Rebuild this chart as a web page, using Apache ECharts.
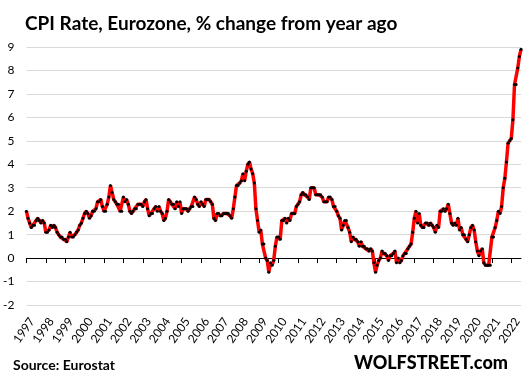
<!DOCTYPE html>
<html>
<head>
<meta charset="utf-8">
<script src="https://cdn.jsdelivr.net/npm/echarts@6/dist/echarts.min.js"></script>
<style>
html,body{margin:0;padding:0;background:#fff;}
#chart{width:529px;height:378px;}
</style>
</head>
<body>
<div id="chart"></div>
<script>
// Year labels (one per January tick)
const years = ['1997','1998','1999','2000','2001','2002','2003','2004','2005','2006','2007','2008','2009','2010','2011','2012','2013','2014','2015','2016','2017','2018','2019','2020','2021','2022'];
const monthsInLastYear = 7;

// CPI annual rate, % (monthly values)
const cpi1997_2001 = [
  2.0,1.7,1.5,1.3,1.4,1.4,1.6,1.7,1.6,1.5,1.6,1.5,
  1.1,1.1,1.2,1.4,1.3,1.4,1.3,1.1,1.0,0.9,0.9,0.8,
  0.8,0.7,0.9,1.1,0.9,0.9,1.0,1.1,1.2,1.4,1.5,1.7,
  1.9,2.0,1.9,1.7,1.8,2.0,2.0,2.1,2.4,2.4,2.5,2.2,
  2.0,2.0,2.3,2.6,3.1,2.8,2.5,2.4,2.3,2.3,2.0,2.0
];
const cpi2002_2006 = [
  2.6,2.4,2.5,2.3,2.0,1.9,2.0,2.1,2.1,2.3,2.3,2.3,
  2.2,2.4,2.5,2.1,1.8,1.9,1.9,2.1,2.2,2.0,2.2,2.0,
  1.9,1.6,1.7,2.0,2.5,2.4,2.3,2.3,2.1,2.4,2.2,2.4,
  1.9,2.1,2.1,2.1,2.0,2.1,2.2,2.2,2.6,2.5,2.3,2.2,
  2.4,2.3,2.2,2.5,2.5,2.5,2.4,2.3,1.7,1.6,1.9,1.9
];
const cpi2007_2011 = [
  1.8,1.8,1.9,1.9,1.9,1.9,1.8,1.7,2.1,2.6,3.1,3.1,
  3.2,3.3,3.6,3.3,3.7,4.0,4.1,3.8,3.6,3.2,2.1,1.6,
  1.1,1.2,0.6,0.6,0.0,-0.1,-0.6,-0.2,-0.3,-0.1,0.5,0.9,
  0.9,0.8,1.6,1.6,1.7,1.5,1.7,1.6,1.9,1.9,1.9,2.2,
  2.3,2.4,2.7,2.8,2.7,2.7,2.6,2.5,3.0,3.0,3.0,2.7
];
const cpi2012_2016 = [
  2.7,2.7,2.7,2.6,2.4,2.4,2.4,2.6,2.6,2.5,2.2,2.2,
  2.0,1.8,1.7,1.2,1.4,1.6,1.6,1.3,1.1,0.7,0.9,0.8,
  0.8,0.7,0.5,0.7,0.5,0.5,0.4,0.4,0.3,0.4,0.3,-0.2,
  -0.6,-0.3,-0.1,0.0,0.3,0.2,0.2,0.1,-0.1,0.1,0.1,0.2,
  0.3,-0.2,0.0,-0.2,-0.1,0.1,0.2,0.2,0.4,0.5,0.6,1.1
];
const cpi2017_2022 = [
  1.7,2.0,1.5,1.9,1.4,1.3,1.3,1.5,1.5,1.4,1.5,1.4,
  1.3,1.1,1.4,1.3,2.0,2.0,2.1,2.0,2.1,2.3,1.9,1.5,
  1.4,1.5,1.4,1.7,1.2,1.3,1.0,1.0,0.8,0.7,1.0,1.3,
  1.4,1.2,0.7,0.3,0.1,0.3,0.4,-0.2,-0.3,-0.3,-0.3,-0.3,
  0.9,0.9,1.3,1.6,2.0,1.9,2.2,3.0,3.4,4.1,4.9,5.0,
  5.1,5.9,7.4,7.4,8.1,8.6,8.9
];
const yTicks = [-2,-1,0,1,2,3,4,5,6,7,8,9];

const values = [].concat(cpi1997_2001, cpi2002_2006, cpi2007_2011, cpi2012_2016, cpi2017_2022);
const categories = [];
years.forEach(function(y, i){
  const n = (i === years.length - 1) ? monthsInLastYear : 12;
  for (let m = 1; m <= n; m++) categories.push(y + '-' + (m < 10 ? '0' + m : m));
});

const FONT = 'Lato, "Liberation Sans", sans-serif';
const chart = echarts.init(document.getElementById('chart'), null, {renderer: 'canvas'});
chart.setOption({
  animation: false,
  backgroundColor: '#ffffff',
  title: [
    {text: 'CPI Rate, Eurozone, % change from year ago', left: 20, top: 9,
     textStyle: {fontFamily: FONT, fontSize: 19, fontWeight: 'bold', color: '#000'}},
    {text: 'Source: Eurostat', left: 8, top: 353,
     textStyle: {fontFamily: FONT, fontSize: 14, fontWeight: 'bold', color: '#000'}},
    {text: 'WOLFSTREET.com', right: 16, top: 349,
     textStyle: {fontFamily: FONT, fontSize: 18, fontWeight: 900, color: '#000'}}
  ],
  grid: [
    {left: 26, right: 8, top: 47, bottom: 73, containLabel: false},
    {left: 32, right: 2, top: 47, bottom: 73, containLabel: false}
  ],
  xAxis: [
    {
      type: 'category', data: categories, boundaryGap: false, gridIndex: 0,
      axisLine: {onZero: true, lineStyle: {color: '#000', width: 1}},
      axisTick: {show: true, length: 5, inside: false, interval: function(i){ return i % 12 === 0; }, lineStyle: {color: '#000'}},
      axisLabel: {show: false},
      splitLine: {show: false}
    },
    {
      type: 'category', data: categories, boundaryGap: false, position: 'bottom', gridIndex: 1,
      axisLine: {show: false, onZero: false},
      axisTick: {show: false},
      axisLabel: {
        show: true, interval: function(i){ return i % 12 === 0; },
        formatter: function(v){ return v.slice(0,4); },
        rotate: 55, margin: 14, fontFamily: FONT, fontSize: 12, color: '#000'
      },
      splitLine: {show: false}
    }
  ],
  yAxis: [
    {
      type: 'value', min: yTicks[0], max: yTicks[yTicks.length-1], interval: 1, gridIndex: 0,
      axisLine: {show: false}, axisTick: {show: false},
      axisLabel: {fontFamily: FONT, fontSize: 12, color: '#000', margin: 12},
      splitLine: {lineStyle: {color: '#d9d9d9', width: 1}}
    },
    {
      type: 'value', min: yTicks[0], max: yTicks[yTicks.length-1], interval: 1, gridIndex: 1,
      show: false
    }
  ],
  series: [{
    type: 'line', xAxisIndex: 0, yAxisIndex: 0, data: values,
    showAllSymbol: true, symbol: 'circle', symbolSize: 3,
    lineStyle: {color: '#ff0000', width: 3.5},
    itemStyle: {color: '#000', borderWidth: 0},
    sampling: null
  }]
});
</script>
</body>
</html>
